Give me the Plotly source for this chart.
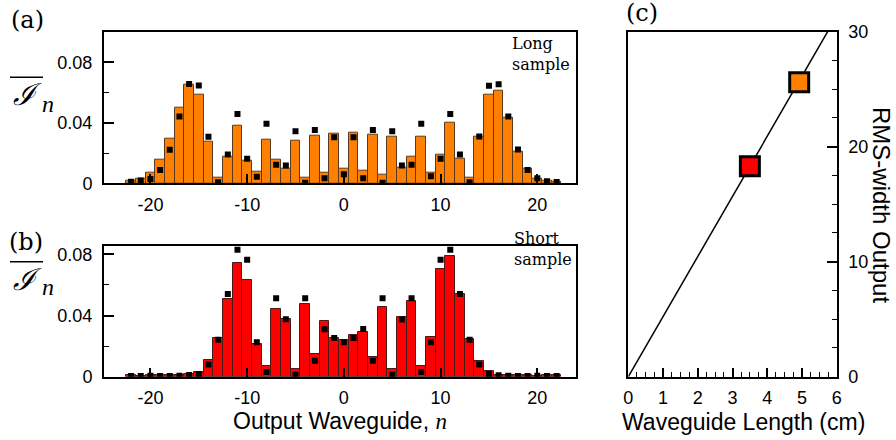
import plotly.graph_objects as go

W, H = 896, 440

# ---------------- data ----------------
n_guides = list(range(-22, 23))

long_bars = [0.0015, 0.0033, 0.0070, 0.0158, 0.0296, 0.0497, 0.0653, 0.0587, 0.0276, 0.0039,
             0.0177, 0.0379, 0.0151, 0.0077, 0.0285, 0.0153, 0.0099, 0.0283, 0.0039, 0.0315,
             0.0068, 0.0329, 0.0099, 0.0337, 0.0081, 0.0322, 0.0055, 0.0311, 0.0105, 0.0173,
             0.0307, 0.0070, 0.0188, 0.0399, 0.0164, 0.0037, 0.0309, 0.0587, 0.0609, 0.0431,
             0.0212, 0.0094, 0.0033, 0.0018, 0.0010]
long_theory = [0.0010, 0.0018, 0.0028, 0.0088, 0.0221, 0.0442, 0.0657, 0.0646, 0.0307, 0.0007,
               0.0190, 0.0458, 0.0162, 0.0044, 0.0394, 0.0123, 0.0118, 0.0344, 0.0004, 0.0353,
               0.0033, 0.0304, 0.0059, 0.0304, 0.0033, 0.0353, 0.0004, 0.0344, 0.0118, 0.0123,
               0.0394, 0.0046, 0.0162, 0.0458, 0.0190, 0.0007, 0.0309, 0.0644, 0.0655, 0.0442,
               0.0223, 0.0088, 0.0033, 0.0013, 0.0008]

short_bars = [0.0009, 0.0007, 0.0010, 0.0008, 0.0009, 0.0010, 0.0018, 0.0033, 0.0112, 0.0255,
              0.0508, 0.0743, 0.0635, 0.0215, 0.0070, 0.0444, 0.0380, 0.0053, 0.0475, 0.0147,
              0.0367, 0.0255, 0.0242, 0.0275, 0.0295, 0.0130, 0.0453, 0.0053, 0.0389, 0.0495,
              0.0073, 0.0262, 0.0705, 0.0787, 0.0543, 0.0248, 0.0101, 0.0035, 0.0013, 0.0009,
              0.0008, 0.0010, 0.0007, 0.0009, 0.0008]
short_theory = [0.0005, 0.0004, 0.0006, 0.0005, 0.0005, 0.0006, 0.0011, 0.0018, 0.0079, 0.0242,
                0.0541, 0.0831, 0.0765, 0.0226, 0.0031, 0.0514, 0.0376, 0.0013, 0.0514, 0.0105,
                0.0310, 0.0253, 0.0226, 0.0253, 0.0312, 0.0105, 0.0514, 0.0013, 0.0374, 0.0514,
                0.0031, 0.0226, 0.0765, 0.0831, 0.0541, 0.0242, 0.0079, 0.0018, 0.0009, 0.0006,
                0.0005, 0.0005, 0.0006, 0.0004, 0.0005]

fit_length = [0.0, 5.74]
fit_width = [0.0, 30.0]
sample_lengths = [3.50, 4.92]
sample_widths = [18.3, 25.6]
sample_colors = ["#FF0000", "#FF8000"]

x_ticks_n = [-20, -10, 0, 10, 20]
x_ticks_n_text = ["-20", "-10", "0", "10", "20"]
y_ticks_I = [0, 0.04, 0.08]
y_ticks_I_text = ["0", "0.04", "0.08"]

# ---------------- helpers ----------------
def px(x):
    return x / W

def py(y):
    return 1 - y / H

SANS = "Liberation Sans, Arial, sans-serif"
SERIF = "DejaVu Serif, serif"

fig = go.Figure()

fig.add_trace(go.Bar(x=n_guides, y=long_bars, xaxis="x", yaxis="y", width=1.0,
                     marker=dict(color="#FF8000", line=dict(color="#5a3a1e", width=1)),
                     showlegend=False))
fig.add_trace(go.Scatter(x=n_guides, y=long_theory, xaxis="x", yaxis="y", mode="markers",
                         marker=dict(symbol="square", size=6, color="black"), showlegend=False))
fig.add_trace(go.Bar(x=n_guides, y=short_bars, xaxis="x2", yaxis="y2", width=1.0,
                     marker=dict(color="#FF0000", line=dict(color="#4a1a1a", width=1)),
                     showlegend=False))
fig.add_trace(go.Scatter(x=n_guides, y=short_theory, xaxis="x2", yaxis="y2", mode="markers",
                         marker=dict(symbol="square", size=6, color="black"), showlegend=False))
fig.add_trace(go.Scatter(x=fit_length, y=fit_width, xaxis="x3", yaxis="y3", mode="lines",
                         line=dict(color="black", width=1.5), showlegend=False))
fig.add_trace(go.Scatter(x=sample_lengths, y=sample_widths, xaxis="x3", yaxis="y3", mode="markers",
                         marker=dict(symbol="square", size=19, color=sample_colors,
                                     line=dict(color="black", width=3)),
                         showlegend=False))

ax_common = dict(showline=True, linecolor="black", linewidth=2, mirror=True, showgrid=False,
                 zeroline=False, ticks="inside", tickcolor="black", tickwidth=1.5,
                 automargin=False,
                 tickfont=dict(family=SANS, size=18, color="black"))

x_ab = [px(104), px(576)]
fig.update_layout(
    width=W, height=H, margin=dict(l=0, r=0, t=0, b=0, autoexpand=False),
    paper_bgcolor="white", plot_bgcolor="white", bargap=0,
    xaxis=dict(domain=x_ab, range=[-24.8, 24.0], anchor="y", tickvals=x_ticks_n,
               ticktext=x_ticks_n_text, ticklen=9, ticklabelstandoff=4, **ax_common),
    yaxis=dict(domain=[py(183.3), py(31.7)], range=[0, 0.1002], anchor="x", tickvals=y_ticks_I,
               ticktext=y_ticks_I_text, ticklen=10, ticklabelstandoff=6,
               minor=dict(dtick=0.02, ticklen=5, ticks="inside", tickcolor="black", tickwidth=1.2),
               **ax_common),
    xaxis2=dict(domain=x_ab, range=[-24.8, 24.0], anchor="y2", tickvals=x_ticks_n,
                ticktext=x_ticks_n_text, ticklen=9, ticklabelstandoff=4, **ax_common),
    yaxis2=dict(domain=[py(376.7), py(246)], range=[0, 0.0855], anchor="x2", tickvals=y_ticks_I,
                ticktext=y_ticks_I_text, ticklen=10, ticklabelstandoff=6,
                minor=dict(dtick=0.02, ticklen=5, ticks="inside", tickcolor="black", tickwidth=1.2),
                **ax_common),
    xaxis3=dict(domain=[px(628.3), px(836.7)], range=[0, 6], anchor="y3", dtick=1, ticklen=9,
                ticklabelstandoff=4,
                minor=dict(dtick=0.25, ticklen=5, ticks="inside", tickcolor="black", tickwidth=1.2),
                **ax_common),
    yaxis3=dict(domain=[py(376.7), py(31.7)], range=[0, 30], anchor="x3", side="right", dtick=10,
                ticklen=10, ticklabelstandoff=6,
                minor=dict(dtick=2.5, ticklen=5, ticks="inside", tickcolor="black", tickwidth=1.2),
                **ax_common),
)

ann = []
def label(x, y, text, size, family, xanchor="center", angle=0, align="center"):
    ann.append(dict(x=px(x), y=py(y), xref="paper", yref="paper", text=text, showarrow=False,
                    xanchor=xanchor, yanchor="middle", textangle=angle, align=align,
                    font=dict(family=family, size=size, color="black")))

label(27, 20, "(a)", 24, SERIF)
label(26, 242, "(b)", 24, SERIF)
label(642, 13, "(c)", 24, SERIF)
label(510, 54, "Long<br>sample", 16, SERIF, xanchor="left", align="left")
label(512, 249, "Short<br>sample", 16, SERIF, xanchor="left", align="left")

for yc, yn, yo in [(94, 104, 77.3), (279, 287.3, 261.7)]:
    label(27, yc, "<i>ℐ</i>", 30, SERIF)
    label(48, yn, "<i>n</i>", 24, "Liberation Serif, serif")
    fig.add_shape(type="line", xref="paper", yref="paper", x0=px(10), x1=px(43), y0=py(yo), y1=py(yo),
                  line=dict(color="black", width=1.5))

label(340, 421, "Output Waveguide, <span style='font-family:Liberation Serif'><i>n</i></span>", 23, SANS)
label(743, 422, "Waveguide Length (cm)", 23, SANS)
label(881, 205, "RMS-width Output", 24, SANS, angle=90)

fig.update_layout(annotations=ann)
fig.write_html("out.html", config={"displayModeBar": False},
               post_script="document.body.style.margin='0';document.body.style.overflow='hidden';")
